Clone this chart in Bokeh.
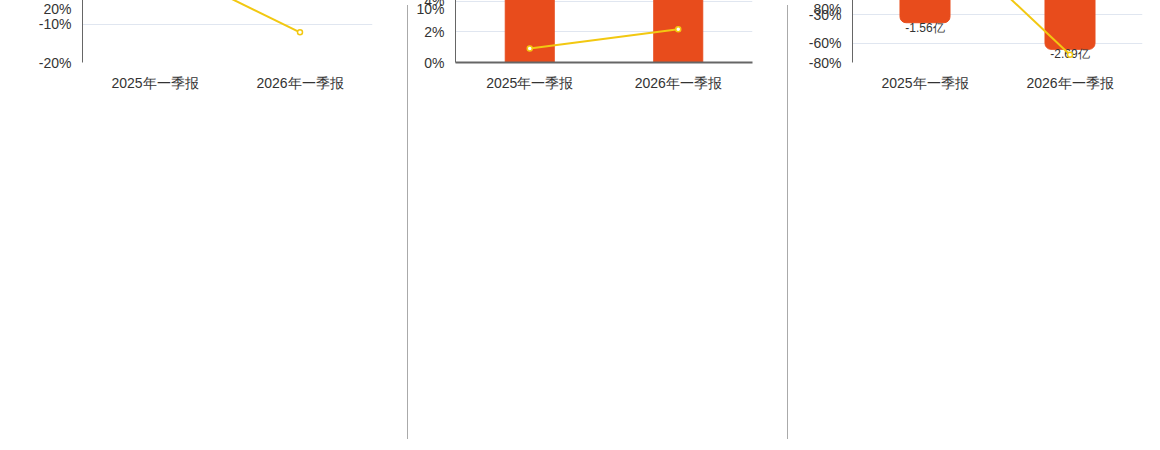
from bokeh.plotting import figure
from bokeh.models import (Range1d, FactorRange, FixedTicker, PrintfTickFormatter, Span,
                          Legend, LegendItem, Label, Div, ColumnDataSource)
from bokeh.layouts import row
from bokeh.embed import file_html
from bokeh.resources import INLINE

categories = ["2025年一季报", "2026年一季报"]
titles = ["营业总收入", "归母净利润", "经营现金流"]
bar_values = [[65.51, 57.54], [8102.65, 8276.55], [-1.56, -2.69]]
bar_labels = [["65.51亿", "57.54亿"], ["8102.65万", "8276.55万"], ["-1.56亿", "-2.69亿"]]
yoy_values = [[6.4, -12.1], [0.92, 2.17], [70.5, -71.8]]
y_ticks = [[-20, -10, 0, 10, 20], [0, 2, 4, 6, 8, 10], [-80, -60, -30, 0, 30, 60, 80]]
y_ranges = [(-20, 20), (0, 10), (-80, 80)]
bar_ranges = [(-77, 77), (0, 9730), (-3.25, 3.25)]

BAR = "#e84c1c"
LINE = "#f2c811"
widths = [402, 369, 371]
borders = [(82, 30), (36, 30), (59, 22)]
bw = [0.345, 0.33, 0.345]

figs = []
for i in range(3):
    bl, br = borders[i]
    p = figure(width=widths[i], height=440, x_range=FactorRange(*categories),
               y_range=Range1d(*y_ranges[i]), output_backend="svg", toolbar_location=None,
               min_border_left=bl, min_border_right=br, min_border_top=62, min_border_bottom=10,
               sizing_mode="fixed", width_policy="fixed", height_policy="fixed")
    p.outline_line_color = None
    p.extra_y_ranges = {"bar": Range1d(*bar_ranges[i])}
    neg = bar_values[i][0] < 0
    src = ColumnDataSource(dict(x=categories, top=bar_values[i], lab=bar_labels[i],
                                ly=list(bar_values[i])))
    radius = (0, 0, 6, 6) if neg else (6, 6, 0, 0)
    r_bar = p.vbar(x="x", top="top", bottom=0, width=bw[i], source=src, y_range_name="bar",
                   color=BAR, border_radius=radius)
    p.text(x="x", y="ly", text="lab", source=src, y_range_name="bar", text_align="center",
           text_baseline="top" if neg else "bottom", y_offset=-2 if neg else -4,
           text_font_size="12px", text_color="#333333")
    if y_ranges[i][0] < 0:
        p.add_layout(Span(location=0, dimension="width", line_color="#666666", line_width=2))
    lsrc = ColumnDataSource(dict(x=categories, y=yoy_values[i]))
    r_line = p.line(x="x", y="y", source=lsrc, color=LINE, line_width=2)
    r_pt = p.scatter(x="x", y="y", source=lsrc, size=5, fill_color="white",
                     line_color=LINE, line_width=1.5)
    p.yaxis.ticker = FixedTicker(ticks=y_ticks[i])
    p.yaxis.formatter = PrintfTickFormatter(format="%d%%")
    p.yaxis.axis_line_color = "#666666"
    p.yaxis.major_tick_line_color = None
    p.yaxis.minor_tick_line_color = None
    p.yaxis.major_label_text_font_size = "14px"
    p.yaxis.major_label_text_color = "#333333"
    p.xaxis.axis_line_color = "#666666" if y_ranges[i][0] == 0 else None
    p.xaxis.axis_line_width = 2
    p.xaxis.major_tick_line_color = None
    p.xaxis.major_label_text_font_size = "14px"
    p.xaxis.major_label_text_color = "#333333"
    p.xaxis.major_label_standoff = 6
    p.xgrid.grid_line_color = None
    p.ygrid.grid_line_color = "#e0e6f0"
    p.add_layout(Label(x=(widths[i] - bl - br) / 2, y=383, x_units="screen", y_units="screen",
                       text=titles[i], text_align="center", text_baseline="middle",
                       text_font_size="15px", text_font_style="bold", text_color="#333333"))
    leg = Legend(items=[LegendItem(label=titles[i], renderers=[r_bar]),
                        LegendItem(label="同比", renderers=[r_line, r_pt])],
                 orientation="horizontal", location="center", label_text_font_size="12px",
                 label_text_color="#333333", padding=0, margin=0, spacing=10,
                 glyph_width=28, glyph_height=12, border_line_color=None,
                 label_height=12)
    p.add_layout(leg, "below")
    figs.append(p)

def sep():
    return Div(text="", width=1, height=434, sizing_mode="fixed",
               styles={"border-left": "1px solid #aaaaaa"})

layout = row(figs[0], sep(), figs[1], sep(), figs[2], spacing=0, sizing_mode="fixed")
open("out.html", "w").write(file_html(layout, INLINE))
